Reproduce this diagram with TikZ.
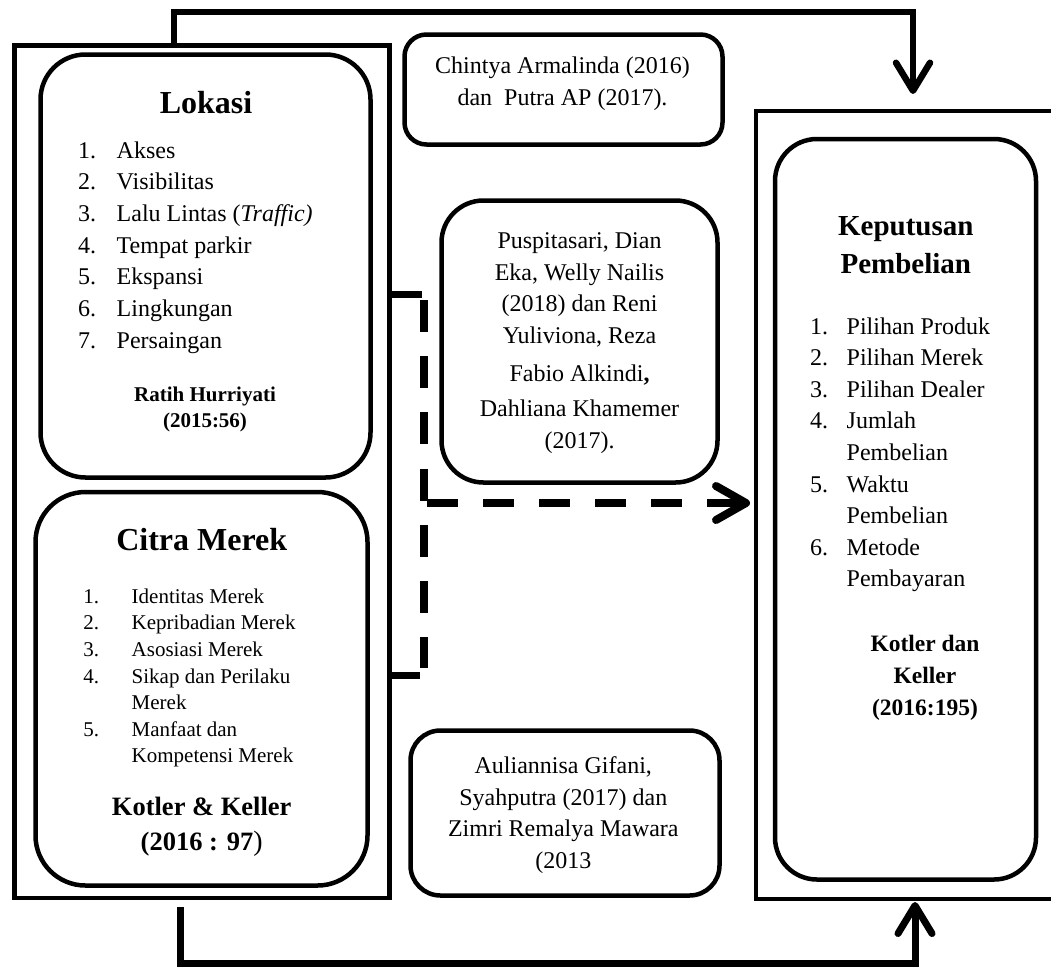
\documentclass[tikz,border=0pt]{standalone}
\usepackage{fontspec}
\setmainfont{Liberation Serif}
\usetikzlibrary{arrows.meta}
\newcommand\myfs[1]{\fontsize{#1}{#1}\selectfont}
\tikzset{
  frame/.style={draw, line width=4.5pt, inner sep=0pt, outer sep=0pt},
  rbox/.style={draw, line width=4.5pt, inner sep=0pt, outer sep=0pt},
  ctxt/.style={inner sep=0pt, outer sep=0pt, anchor=base},
  ltxt/.style={inner sep=0pt, outer sep=0pt, anchor=base west},
  lok/.style={ltxt, font={\myfs{24}}},
  cit/.style={ltxt, font={\myfs{21}}},
  kep/.style={ltxt, font={\myfs{24}}},
  ref/.style={ctxt, font={\myfs{24}}},
  conn/.style={line width=6.5pt},
  tipA/.style={-{Straight Barb[length=28pt,width=34pt,round]}},
  dsh/.style={line width=8pt, dash pattern=on 32pt off 24.2pt},
  dshh/.style={line width=8pt, dash pattern=on 31pt off 25pt},
  brk/.style={line width=7pt},
}
\begin{document}
\begin{tikzpicture}[x=1pt,y=-1pt]
\useasboundingbox (0,0) rectangle (1051,967);

% outer frames
\node[frame, minimum width=375pt, minimum height=852.5pt] (lrect) at (202,471.75) {};
\node[frame, minimum width=314pt, minimum height=788pt] (rrect) at (913,505) {};

% rounded boxes
\node[rbox, rounded corners=45pt, minimum width=330pt, minimum height=423pt] (lokbox) at (205.5,266) {};
\node[rbox, rounded corners=50pt, minimum width=332pt, minimum height=393.5pt] (citbox) at (201.5,688.75) {};
\node[rbox, rounded corners=22pt, minimum width=318pt, minimum height=110pt] (chbox) at (563.5,89.5) {};
\node[rbox, rounded corners=42pt, minimum width=276pt, minimum height=282pt] (pubox) at (579.5,341.5) {};
\node[rbox, rounded corners=30pt, minimum width=309pt, minimum height=165pt] (aubox) at (565,813) {};
\node[rbox, rounded corners=42pt, minimum width=261pt, minimum height=740.5pt] (kepbox) at (905.5,509.25) {};

% Lokasi
\node[ctxt, font={\myfs{32}\bfseries}] (loktitle) at (206,113) {Lokasi};
\foreach \t [count=\i] in {Akses,Visibilitas,{Lalu Lintas (\textit{Traffic)}},Tempat parkir,Ekspansi,Lingkungan,Persaingan} {
  \node[lok] (lokn\i) at (78,{126.63+31.67*\i}) {\i.};
  \node[lok] (lok\i) at (116.7,{126.63+31.67*\i}) {\t};
}
\node[ctxt, font={\myfs{21}\bfseries}] (lokref1) at (205,401.7) {Ratih Hurriyati};
\node[ctxt, font={\myfs{21}\bfseries}] (lokref2) at (205,427.3) {(2015:56)};

% Citra Merek
\node[ctxt, font={\myfs{32}\bfseries}] (cittitle) at (201.7,550) {Citra Merek};
\node[cit] (citn1) at (83.3,603.3) {1.};
\node[cit] (cit1) at (131.7,603.3) {Identitas Merek};
\node[cit] (citn2) at (83.3,629.9) {2.};
\node[cit] (cit2) at (131.7,629.9) {Kepribadian Merek};
\node[cit] (citn3) at (83.3,656.5) {3.};
\node[cit] (cit3) at (131.7,656.5) {Asosiasi Merek};
\node[cit] (citn4) at (83.3,683.1) {4.};
\node[cit] (cit4) at (131.7,683.1) {Sikap dan Perilaku};
\node[cit] (cit4b) at (131.7,709.7) {Merek};
\node[cit] (citn5) at (83.3,736.3) {5.};
\node[cit] (cit5) at (131.7,736.3) {Manfaat dan};
\node[cit] (cit5b) at (131.7,762.9) {Kompetensi Merek};
\node[ctxt, font={\myfs{26.5}\bfseries}] (citref1) at (201.7,815) {Kotler \& Keller};
\node[ctxt, font={\myfs{26.5}}] (citref2) at (201.7,850.7) {\textbf{(2016 : 97}{\myfs{28})}};

% Chintya
\node[ref] (ch1) at (562.5,73.3) {Chintya Armalinda (2016)};
\node[ref] (ch2) at (562.5,105) {dan~ Putra AP (2017).};

% Puspitasari
\node[ref] (pu1) at (579.5,248.3) {Puspitasari, Dian};
\node[ref] (pu2) at (579.5,280) {Eka, Welly Nailis};
\node[ref] (pu3) at (579.5,311.7) {(2018) dan Reni};
\node[ref] (pu4) at (579.5,343.3) {Yuliviona, Reza};
\node[ref] (pu5) at (579.5,381.7) {Fabio Alkindi\textbf{,}};
\node[ref] (pu6) at (579.5,416.7) {Dahliana Khamemer};
\node[ref] (pu7) at (579.5,448.3) {(2017).};

% Auliannisa
\node[ref] (au1) at (563.3,773.3) {Auliannisa Gifani,};
\node[ref] (au2) at (563.3,805) {Syahputra (2017) dan};
\node[ref] (au3) at (563.3,836.7) {Zimri Remalya Mawara};
\node[ref] (au4) at (563.3,868.3) {(2013};

% Keputusan Pembelian
\node[ctxt, font={\myfs{29}\bfseries}] (keptitle1) at (905.8,235) {Keputusan};
\node[ctxt, font={\myfs{29}\bfseries}] (keptitle2) at (905.8,273.3) {Pembelian};
\node[kep] (kepn1) at (810,334) {1.};
\node[kep] (kep1) at (846.7,334) {Pilihan Produk};
\node[kep] (kepn2) at (810,365.6) {2.};
\node[kep] (kep2) at (846.7,365.6) {Pilihan Merek};
\node[kep] (kepn3) at (810,397.2) {3.};
\node[kep] (kep3) at (846.7,397.2) {Pilihan Dealer};
\node[kep] (kepn4) at (810,428.8) {4.};
\node[kep] (kep4) at (846.7,428.8) {Jumlah};
\node[kep] (kep4b) at (846.7,460.4) {Pembelian};
\node[kep] (kepn5) at (810,492) {5.};
\node[kep] (kep5) at (846.7,492) {Waktu};
\node[kep] (kep5b) at (846.7,523.6) {Pembelian};
\node[kep] (kepn6) at (810,555.2) {6.};
\node[kep] (kep6) at (846.7,555.2) {Metode};
\node[kep] (kep6b) at (846.7,586.8) {Pembayaran};
\node[ctxt, font={\myfs{23.5}\bfseries}] (kepref1) at (925,651.7) {Kotler dan};
\node[ctxt, font={\myfs{23.5}\bfseries}] (kepref2) at (925,683.3) {Keller};
\node[ctxt, font={\myfs{23.5}\bfseries}] (kepref3) at (925,715) {(2016:195)};

% connectors
\coordinate (tA) at (174,12);
\coordinate (tB) at (913,12);
\draw[conn, tipA, shorten >=17pt] (lrect.north -| tA) -- (tA) -- (tB) -- (rrect.north -| tB);

\coordinate (bA) at (180,963);
\coordinate (bB) at (915,963);
\draw[conn, line width=7pt, tipA, shorten <=9pt, shorten >=3pt] (lrect.south -| bA) -- (bA) -- (bB) -- (rrect.south -| bB);

\coordinate (brT) at (424,294);
\coordinate (brB) at (424,675);
\coordinate (dvA) at (424,300);
\coordinate (dvB) at (424,668);
\coordinate (hA) at (427,503);
\draw[brk] (lrect.east |- brT) -- ([xshift=-2pt]brT);
\draw[brk] (lrect.east |- brB) -- ([xshift=-4pt]brB);
\draw[dsh] (dvA) -- (dvB);
\draw[dshh, -{Straight Barb[length=30pt,width=34pt,round]}, shorten >=6pt] (hA) -- (rrect.west |- hA);
\end{tikzpicture}
\end{document}
